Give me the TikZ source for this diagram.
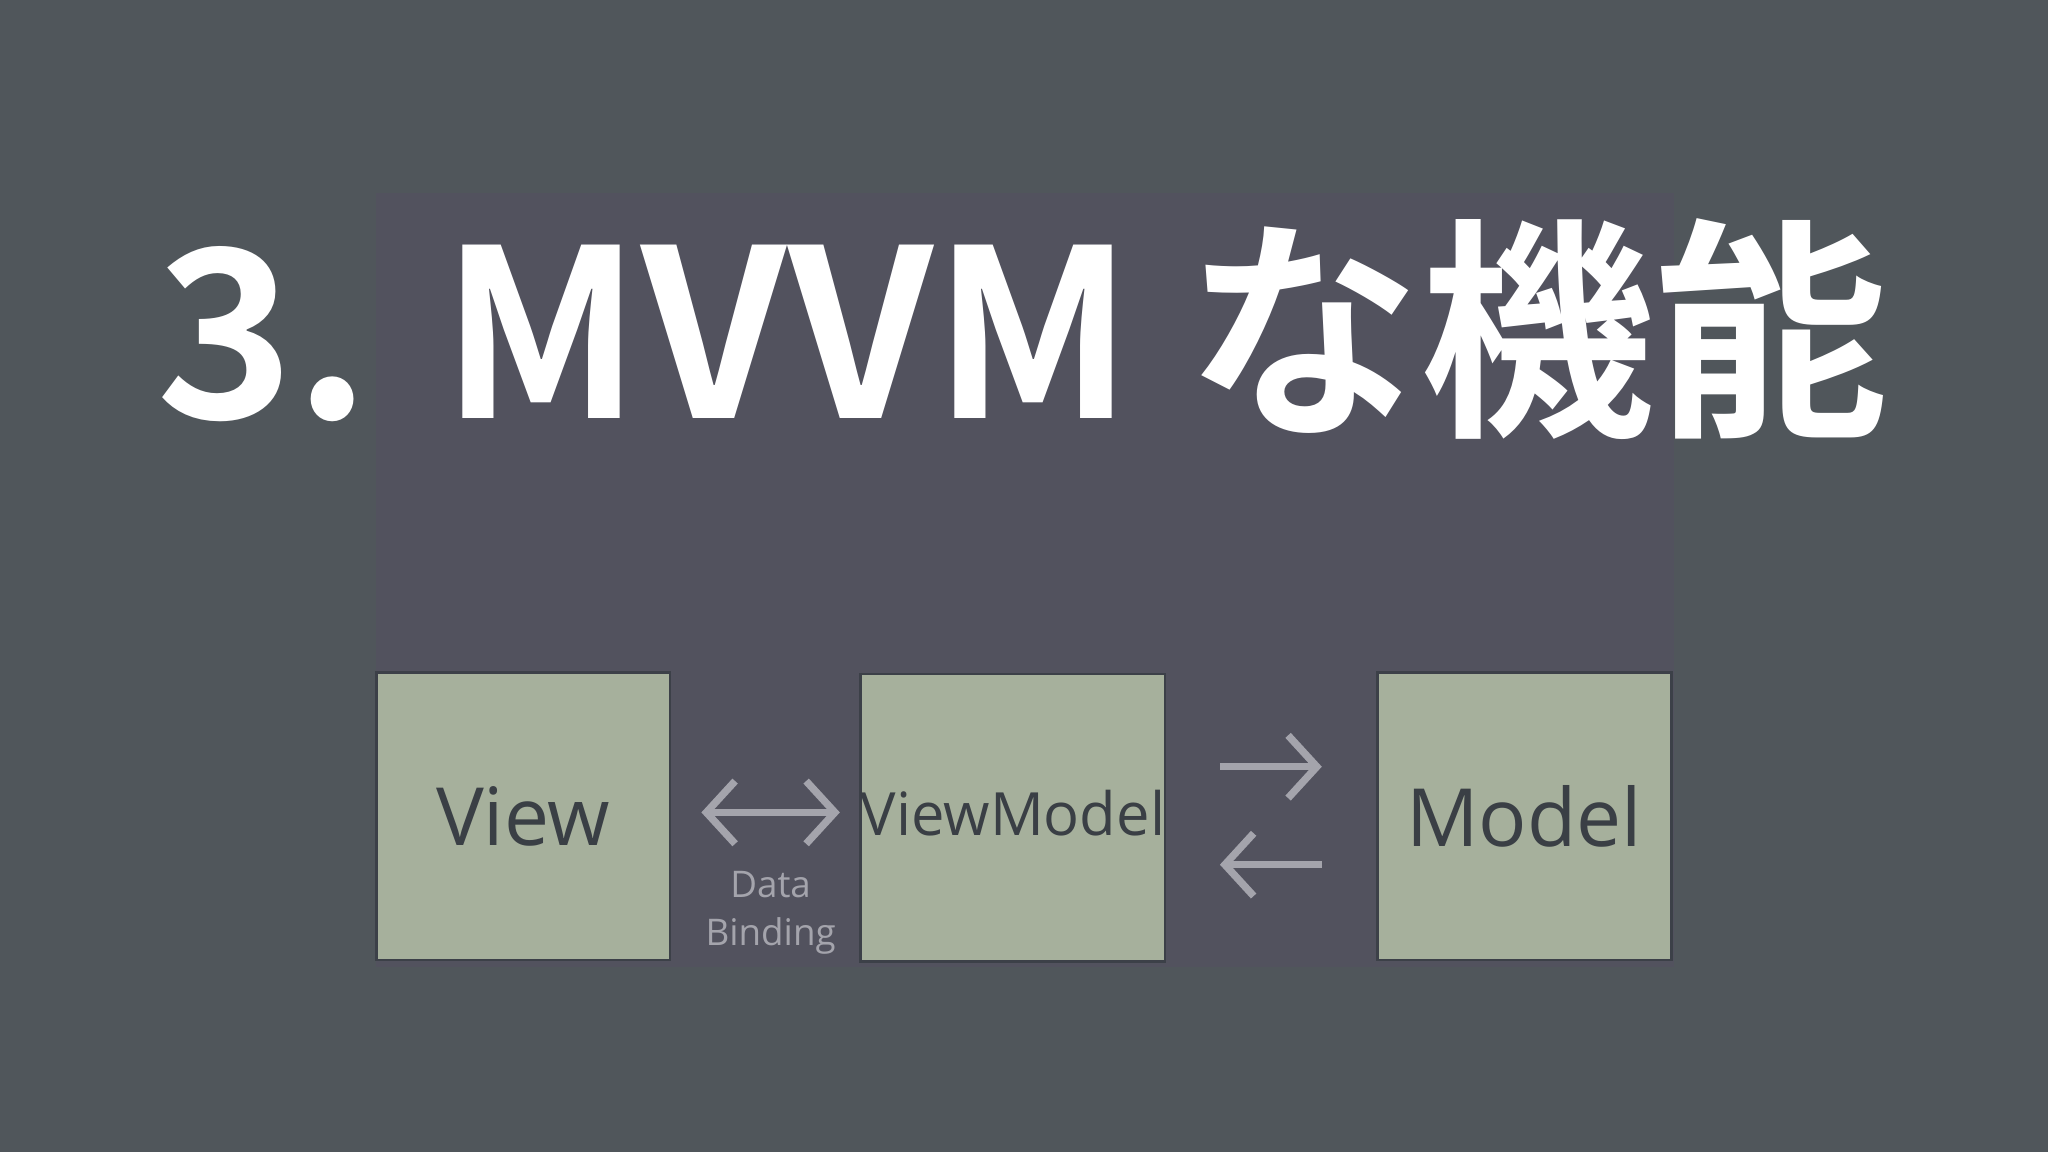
\documentclass[tikz,border=0pt]{standalone}
\usepackage{fontspec}
\setmainfont{Open Sans}
\newfontfamily\cjkb[BoldFont={Noto Sans CJK JP Bold}]{Noto Sans CJK JP}
\usetikzlibrary{arrows.meta}
\definecolor{bgout}{HTML}{50565B}
\definecolor{bgin}{HTML}{52525E}
\definecolor{boxf}{HTML}{A6B09C}
\definecolor{boxd}{HTML}{3C4048}
\definecolor{txt}{HTML}{3A3F45}
\definecolor{arr}{HTML}{A4A4AC}
\tikzset{
 box/.style={draw=boxd,line width=0.6pt,fill=boxf,minimum width=2.25cm,minimum height=2.2cm,inner sep=0pt,text=txt},
 conn/.style={arr,line width=1.6pt,-{Straight Barb[length=2.2mm,width=4.8mm,line width=1.6pt]}},
}
\begin{document}
\begin{tikzpicture}[x=1cm,y=1cm]
\fill[bgout] (0,0) rectangle (15.68,8.82);
\fill[bgin] (2.88,8.82-7.40) rectangle (12.82,8.82-1.48);
\useasboundingbox (0,0) rectangle (15.68,8.82);
\node[text=white,font=\cjkb\bfseries\fontsize{51}{56}\selectfont,inner sep=0pt] (title) at (7.83,8.82-2.52) {3. MVVM な機能};
\node[box,font=\fontsize{17.5}{20}\selectfont] (view) at (4.005,8.82-6.25) {View};
\node[box,font=\fontsize{13}{15}\selectfont] (vm) at (7.755,8.82-6.26) {\raisebox{0.3ex}{ViewModel}};
\node[box,font=\fontsize{17.5}{20}\selectfont] (model) at (11.67,8.82-6.25) {Model};
\coordinate (a1) at (5.37,8.82-6.22);
\coordinate (a2) at (6.43,8.82-6.22);
\draw[conn,{Straight Barb[length=2.2mm,width=4.8mm,line width=1.6pt]}-{Straight Barb[length=2.2mm,width=4.8mm,line width=1.6pt]}] (a1) -- (a2);
\node[text=arr,font=\fontsize{8}{10.5}\selectfont,align=center] (db) at (5.9,8.82-6.99) {Data\\Binding};
\coordinate (r1) at (9.34,8.82-5.87);
\coordinate (r2) at (10.12,8.82-5.87);
\coordinate (l1) at (10.12,8.82-6.62);
\coordinate (l2) at (9.34,8.82-6.62);
\draw[conn] (r1) -- (r2);
\draw[conn] (l1) -- (l2);
\end{tikzpicture}
\end{document}
